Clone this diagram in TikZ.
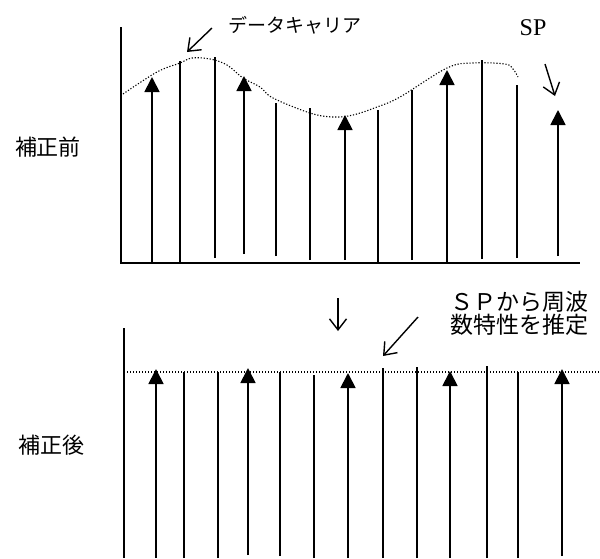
\documentclass[tikz,border=0pt]{standalone}
\usepackage{fontspec}
\setmainfont{Liberation Serif}
\newfontfamily\jp{Noto Sans CJK JP}
\usetikzlibrary{arrows.meta}
\tikzset{
  bar/.style={line width=1.8pt},
  cararrow/.style={line width=1.8pt,-{Triangle[width=15pt,length=15pt]}},
  axisline/.style={line width=1.8pt},
  curve/.style={line width=1.1pt,dash pattern=on 1.2pt off 1.8pt},
  pointer/.style={line width=1.4pt,-{Straight Barb[length=11pt,width=17pt]}},
  jplabel/.style={inner sep=0pt,font=\jp\fontsize{21}{23}\selectfont},
}
\begin{document}
\begin{tikzpicture}[x=1pt,y=-1pt]
\useasboundingbox (0,0) rectangle (600,558);
% ---------- top panel ----------
\draw[axisline] (121,27) -- (121,263) -- (580,263);
\foreach \x/\t/\b in {180/61/262,215/57/258,276/103/256,310/108/260,378/110/262,412/90/260,482/60/259,517/85/258}
  \draw[bar] (\x,\b) -- (\x,\t);
\foreach \x/\t/\b in {152/77/262,244/76/254,345/115/260,447/70/262,558/110/256}
  \draw[cararrow] (\x,\b) -- (\x,\t);
\draw[curve] plot[smooth,tension=0.6] coordinates {(123,94) (157,72) (180,63) (192,58) (210,59) (227,65) (243,78) (260,87) (273,98) (310,113) (333,117) (353,115) (377,107) (400,97) (447,68) (473,63) (505,64) (513,69) (518,77)};
\node[jplabel,font=\jp\fontsize{19}{21}\selectfont] (dc) at (295,25) {データキャリア};
\coordinate (dcA) at (212,28);
\coordinate (dcB) at (187,52);
\draw[pointer] (dcA) -- (dcB);
\node[inner sep=0pt,font=\fontsize{24}{26}\selectfont] (sp) at (533,28) {SP};
\coordinate (spA) at (545,64);
\coordinate (spB) at (555,96);
\draw[pointer] (spA) -- (spB);
\node[jplabel,font=\jp\fontsize{22}{24}\selectfont] (before) at (48,147) {補正前};
% ---------- bottom panel ----------
\draw[axisline] (124,328) -- (124,558);
\draw[curve] (127,372) -- (600,372);
\foreach \x/\t/\b in {184/372/558,218/372/558,280/372/556,314/375/558,383/368/558,417/367/558,487/366/558,518/372/558}
  \draw[bar] (\x,\b) -- (\x,\t);
\foreach \x/\t/\b in {156/369/558,248/368/555,348/373/558,450/371/558,562/369/556}
  \draw[cararrow] (\x,\b) -- (\x,\t);
\coordinate (dnA) at (338,298);
\coordinate (dnB) at (338,331);
\draw[pointer] (dnA) -- (dnB);
\node[jplabel,anchor=west,align=left,font=\jp\fontsize{23}{23}\selectfont] (est) at (450,313.5) {ＳＰから周波\\数特性を推定};
\coordinate (esA) at (418,317);
\coordinate (esB) at (383,356);
\draw[pointer] (esA) -- (esB);
\node[jplabel,font=\jp\fontsize{22}{24}\selectfont] (after) at (51,445) {補正後};
\end{tikzpicture}
\end{document}
